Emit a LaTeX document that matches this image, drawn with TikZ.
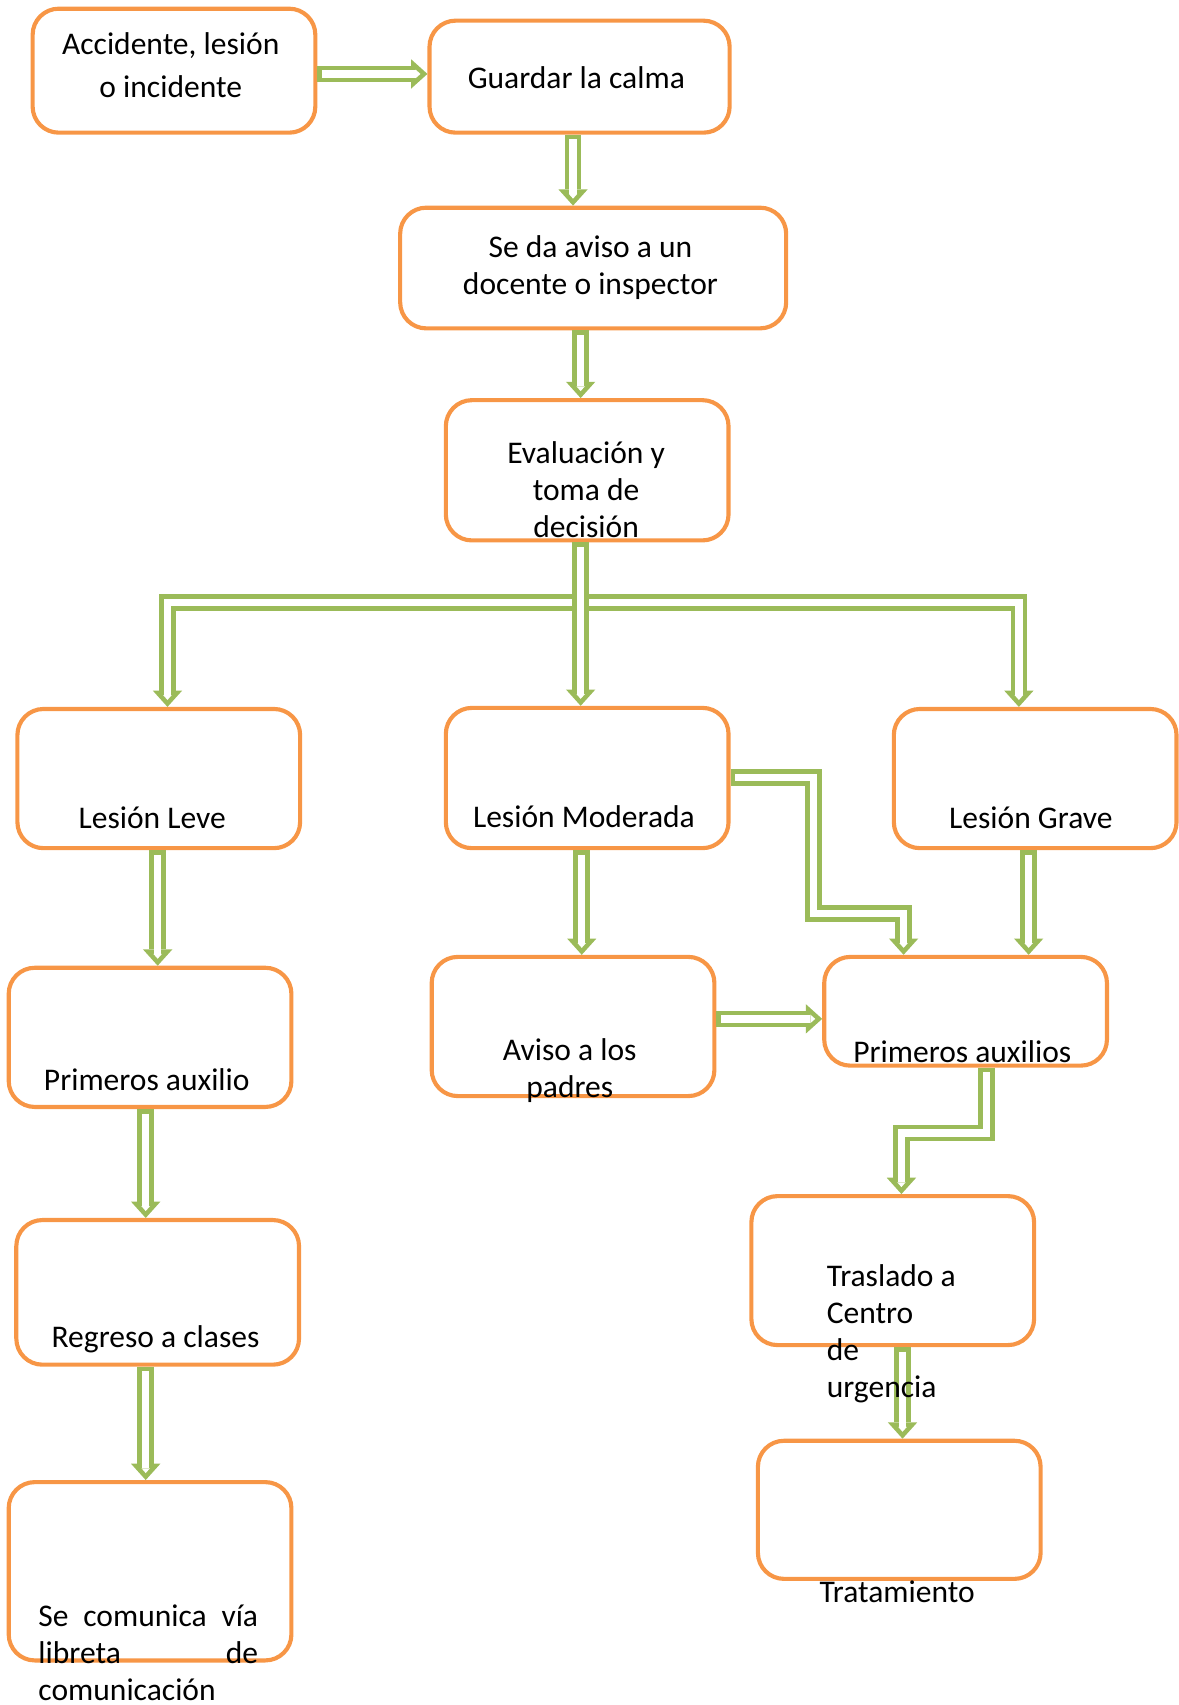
\documentclass[tikz,border=0pt]{standalone}
\usepackage{fontspec}
\setmainfont{Carlito}
\usetikzlibrary{arrows.meta}

\definecolor{boxorange}{HTML}{F79646}
\definecolor{flowgreen}{HTML}{9BBB59}

\tikzset{
  caja/.style={draw=boxorange, line width=1.9pt, rounded corners=12pt,
    minimum width=130pt, inner sep=0pt},
  texto/.style={font=\fontsize{14.5}{17}\selectfont, align=center,
    inner sep=0pt, anchor=base},
  flow/.style={preaction={draw=flowgreen, line width=7.6pt,
      shorten >=0pt, shorten <=0pt,
      -{Triangle[length=7.5pt, width=13.5pt, line width=0pt]}},
    draw=white, line width=3.4pt, shorten <=2.1pt, shorten >=3.2pt,
    -{Triangle[length=2.2pt, width=3.9pt, line width=0pt]}},
}

\begin{document}
\begin{tikzpicture}[x=0.5pt, y=-0.5pt]
\useasboundingbox (0,0) rectangle (1084,1568);

% cajas
\node[caja, minimum height=57pt] (acc) at (160,65) {};
\node[caja, minimum width=138pt, minimum height=51.5pt] (calma) at (533,70.5) {};
\node[caja, minimum width=177.5pt, minimum height=55.5pt] (docente) at (545.5,246.5) {};
\node[caja, minimum height=64.5pt] (eval) at (540,432.5) {};
\node[caja, minimum height=64pt] (leve) at (146,716) {};
\node[caja, minimum height=64.5pt] (moderada) at (540,715.5) {};
\node[caja, minimum height=64pt] (grave) at (952,716) {};
\node[caja, minimum height=64pt] (prim1) at (138,954) {};
\node[caja, minimum height=64pt] (padres) at (527,944) {};
\node[caja, minimum height=50pt] (prim2) at (888,930) {};
\node[caja, minimum height=66.5pt] (regreso) at (145,1188.5) {};
\node[caja, minimum height=82pt] (comunica) at (138,1445) {};
\node[caja, minimum height=68.5pt] (traslado) at (821,1168.5) {};
\node[caja, minimum height=63.5pt] (tratam) at (827,1388.5) {};

% flechas
\draw[flow] (acc.east |- 0,68) -- (calma.west |- 0,68);
\draw[flow] (calma.south -| 527,0) -- (docente.north -| 527,0);
\draw[flow] (docente.south -| 534,0) -- (eval.north -| 534,0);
\coordinate (split) at (534,554);
\draw[flow] (split) -- (split -| 154,0) -- (leve.north -| 154,0);
\draw[flow] (split) -- (split -| 937,0) -- (grave.north -| 937,0);
\draw[flow] (eval.south -| 534,0) -- (moderada.north -| 534,0);
\draw[flow] (leve.south -| 145,0) -- (prim1.north -| 145,0);
\draw[flow] (moderada.south -| 535,0) -- (padres.north -| 535,0);
\draw[flow] (moderada.east |- 0,715) -- (748,715) -- (748,840) -- (831,840) -- (prim2.north -| 831,0);
\draw[flow] (grave.south -| 946,0) -- (prim2.north -| 946,0);
\draw[flow] (padres.east |- 0,937) -- (prim2.west |- 0,937);
\draw[flow] (prim2.south -| 907,0) -- (907,1042) -- (829,1042) -- (traslado.north -| 829,0);
\draw[flow] (prim1.south -| 134,0) -- (regreso.north -| 134,0);
\draw[flow] (regreso.south -| 134,0) -- (comunica.north -| 134,0);
\draw[flow] (traslado.south -| 830,0) -- (tratam.north -| 830,0);

% textos
\node[texto] (t-acc) at (157,90) {Accidente, lesión\\[3pt]o incidente};
\node[texto] (t-calma) at (530,81) {Guardar la calma};
\node[texto] (t-docente) at (543,271) {Se da aviso a un\\docente o inspector};
\node[texto] (t-eval) at (539,494) {Evaluación y\\toma de\\decisión};
\node[texto] (t-leve) at (140,762) {Lesión Leve};
\node[texto] (t-moderada) at (537,761) {Lesión Moderada};
\node[texto] (t-grave) at (948,762) {Lesión Grave};
\node[texto] (t-prim1) at (135,1003) {Primeros auxilio};
\node[texto] (t-padres) at (524,1009) {Aviso a los\\padres};
\node[texto] (t-prim2) at (885,977) {Primeros auxilios};
\node[texto] (t-regreso) at (143,1239) {Regreso a clases};
\node[texto, anchor=base west, text width=101pt, align=left] (t-comunica) at (35,1496)
  {Se\hfill comunica\hfill vía\\libreta\hfill de\\comunicación};
\node[texto, anchor=base west, align=left] (t-traslado) at (760,1285)
  {Traslado a\\Centro\\de\\urgencia};
\node[texto] (t-tratam) at (825,1474) {Tratamiento};

\end{tikzpicture}
\end{document}
